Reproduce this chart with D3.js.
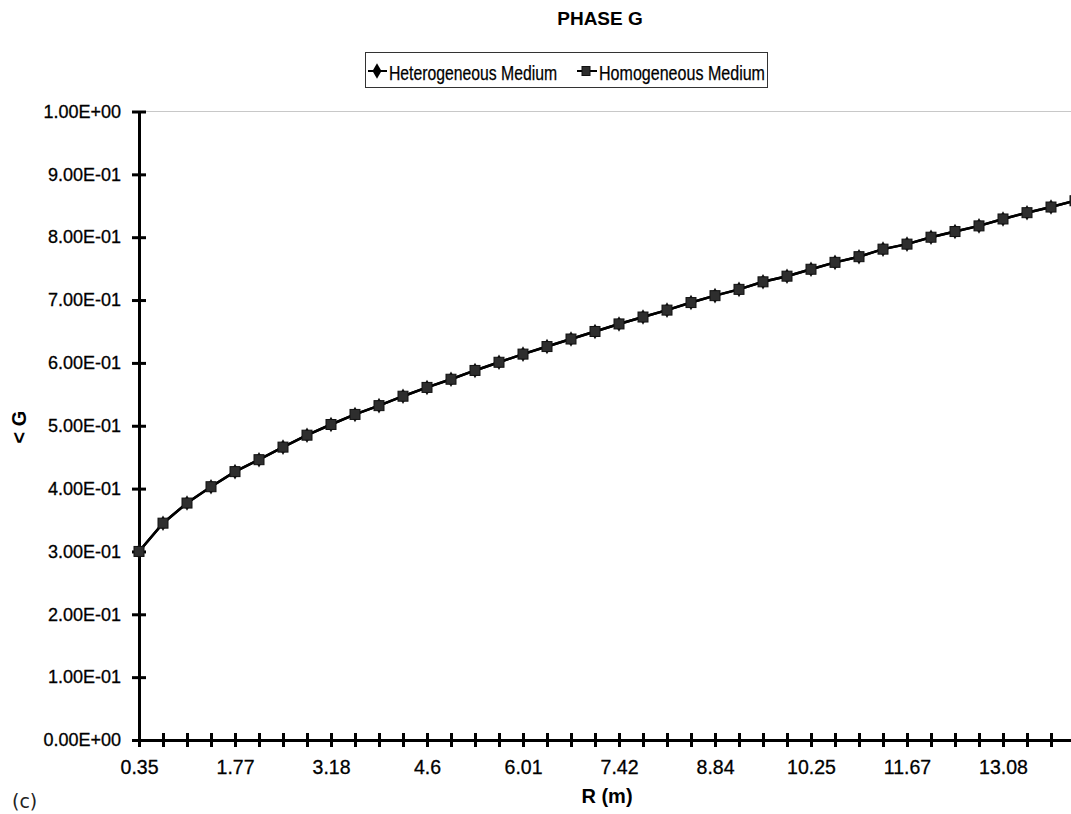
<!DOCTYPE html>
<html>
<head>
<meta charset="utf-8">
<script src="https://cdn.jsdelivr.net/npm/d3@7"></script>
<style>
  body { margin: 0; background: #fff; }
  svg { font-family: "Liberation Sans", Arial, sans-serif; }
</style>
</head>
<body>
<div id="chart"></div>
<script>
// R (m) categories, one per point
var categories = [0.35, 0.71, 1.06, 1.41, 1.77, 2.12, 2.47, 2.83, 3.18, 3.54,
    3.89, 4.24, 4.6, 4.95, 5.3, 5.66, 6.01, 6.36, 6.72, 7.07,
    7.42, 7.78, 8.13, 8.49, 8.84, 9.19, 9.55, 9.9, 10.25, 10.61,
    10.96, 11.31, 11.67, 12.02, 12.37, 12.73, 13.08, 13.44, 13.79, 14.14];

// both media give the same curve
var heterogeneous = [0.300, 0.345, 0.377, 0.403, 0.427, 0.446, 0.466, 0.485, 0.502, 0.518,
    0.532, 0.547, 0.561, 0.574, 0.588, 0.601, 0.614, 0.626, 0.638, 0.650,
    0.662, 0.673, 0.684, 0.696, 0.707, 0.717, 0.729, 0.738, 0.749, 0.760,
    0.769, 0.781, 0.789, 0.800, 0.809, 0.818, 0.829, 0.839, 0.848, 0.858];
var homogeneous = [0.300, 0.345, 0.377, 0.403, 0.427, 0.446, 0.466, 0.485, 0.502, 0.518,
    0.532, 0.547, 0.561, 0.574, 0.588, 0.601, 0.614, 0.626, 0.638, 0.650,
    0.662, 0.673, 0.684, 0.696, 0.707, 0.717, 0.729, 0.738, 0.749, 0.760,
    0.769, 0.781, 0.789, 0.800, 0.809, 0.818, 0.829, 0.839, 0.848, 0.858];

var yTicks = [0, 0.1, 0.2, 0.3, 0.4, 0.5, 0.6, 0.7, 0.8, 0.9, 1.0];
var yTickLabels = ["0.00E+00", "1.00E-01", "2.00E-01", "3.00E-01", "4.00E-01", "5.00E-01",
    "6.00E-01", "7.00E-01", "8.00E-01", "9.00E-01", "1.00E+00"];
var labelEvery = 4;

var width = 1071,
    height = 814,
    x0 = 139,
    step = 24,
    yBottom = 740,
    yTop = 111.5;

var svg = d3.select("#chart")
    .append("svg")
    .attr("width", width)
    .attr("height", height);

var x = d3.scalePoint()
    .domain(categories)
    .range([x0, x0 + step * (categories.length - 1)]);

var y = d3.scaleLinear()
    .domain([0, 1])
    .range([yBottom, yTop]);

// faint top border of the plot area
svg.append("line")
    .attr("x1", x0).attr("x2", width)
    .attr("y1", y(1)).attr("y2", y(1))
    .attr("stroke", "#c8c8c8")
    .attr("stroke-width", 1);

// y axis
var yAxis = svg.append("g")
    .attr("transform", `translate(${x0}, 0)`)
    .call(d3.axisLeft(y)
        .tickValues(yTicks)
        .tickFormat((d, i) => yTickLabels[i])
        .tickSizeInner(7)
        .tickSizeOuter(0)
        .tickPadding(11));
yAxis.select(".domain").attr("stroke", "#000").attr("stroke-width", 3);
yAxis.selectAll(".tick line").attr("x1", 7).attr("stroke", "#000").attr("stroke-width", 3);
yAxis.selectAll(".tick text")
    .attr("font-size", 18)
    .attr("font-family", "Liberation Sans, Arial, sans-serif")
    .attr("fill", "#000")
    .attr("stroke", "#000")
    .attr("stroke-width", 0.3);

// x axis (category axis, label every 4th)
var xAxis = svg.append("g")
    .attr("transform", `translate(0, ${yBottom})`)
    .call(d3.axisBottom(x)
        .tickFormat((d, i) => i % labelEvery === 0 ? d : "")
        .tickSizeInner(7)
        .tickSizeOuter(0)
        .tickPadding(13));
xAxis.select(".domain").attr("stroke", "#000").attr("stroke-width", 3);
xAxis.selectAll(".tick line").attr("y1", -7).attr("stroke", "#000").attr("stroke-width", 3);
xAxis.selectAll(".tick text")
    .attr("font-size", 19.5)
    .attr("font-family", "Liberation Sans, Arial, sans-serif")
    .attr("fill", "#000")
    .attr("stroke", "#000")
    .attr("stroke-width", 0.3);

// series
var line = d3.line()
    .x((d, i) => x(categories[i]))
    .y(d => y(d));

svg.append("path")
    .datum(heterogeneous)
    .attr("fill", "none")
    .attr("stroke", "#000")
    .attr("stroke-width", 2.5)
    .attr("d", line);

svg.append("path")
    .datum(homogeneous)
    .attr("fill", "none")
    .attr("stroke", "#000")
    .attr("stroke-width", 2.5)
    .attr("d", line);

var diamond = d3.symbol().type(d3.symbolDiamond).size(70);

svg.append("g")
    .selectAll("path")
    .data(heterogeneous)
    .join("path")
    .attr("d", diamond)
    .attr("transform", (d, i) => `translate(${x(categories[i])}, ${y(d)})`)
    .attr("fill", "#111");

svg.append("g")
    .selectAll("rect")
    .data(homogeneous)
    .join("rect")
    .attr("x", (d, i) => x(categories[i]) - 5)
    .attr("y", d => y(d) - 5)
    .attr("width", 10)
    .attr("height", 10)
    .attr("fill", "#2e2e2e")
    .attr("stroke", "#111")
    .attr("stroke-width", 1);

// title
svg.append("text")
    .attr("x", 600).attr("y", 25)
    .attr("text-anchor", "middle")
    .attr("font-size", 19)
    .attr("font-weight", "bold")
    .text("PHASE G");

// legend
var legend = svg.append("g");
legend.append("rect")
    .attr("x", 365.5).attr("y", 52.5)
    .attr("width", 402).attr("height", 35)
    .attr("fill", "#fff")
    .attr("stroke", "#333")
    .attr("stroke-width", 1);

legend.append("line")
    .attr("x1", 368).attr("x2", 387).attr("y1", 71).attr("y2", 71)
    .attr("stroke", "#000").attr("stroke-width", 2);
legend.append("path")
    .attr("d", diamond)
    .attr("transform", "translate(377, 71)")
    .attr("fill", "#000");
legend.append("text")
    .attr("x", 389).attr("y", 80)
    .attr("font-size", 19.5)
    .attr("textLength", 168)
    .attr("lengthAdjust", "spacingAndGlyphs")
    .attr("stroke", "#000")
    .attr("stroke-width", 0.25)
    .text("Heterogeneous Medium");

legend.append("line")
    .attr("x1", 577).attr("x2", 597).attr("y1", 71).attr("y2", 71)
    .attr("stroke", "#000").attr("stroke-width", 2);
legend.append("rect")
    .attr("x", 582).attr("y", 66.5)
    .attr("width", 8).attr("height", 9)
    .attr("fill", "#2e2e2e").attr("stroke", "#111");
legend.append("text")
    .attr("x", 599).attr("y", 80)
    .attr("font-size", 19.5)
    .attr("textLength", 166)
    .attr("lengthAdjust", "spacingAndGlyphs")
    .attr("stroke", "#000")
    .attr("stroke-width", 0.25)
    .text("Homogeneous Medium");

// axis titles
svg.append("text")
    .attr("transform", "translate(26, 427) rotate(-90)")
    .attr("text-anchor", "middle")
    .attr("font-size", 20)
    .attr("font-weight", "bold")
    .text("< G");

svg.append("text")
    .attr("x", 607).attr("y", 803)
    .attr("text-anchor", "middle")
    .attr("font-size", 20)
    .attr("font-weight", "bold")
    .text("R (m)");

svg.append("text")
    .attr("x", 12).attr("y", 808)
    .attr("font-size", 19)
    .attr("font-family", "DejaVu Sans, sans-serif")
    .attr("fill", "#222")
    .text("(c)");
</script>
</body>
</html>
